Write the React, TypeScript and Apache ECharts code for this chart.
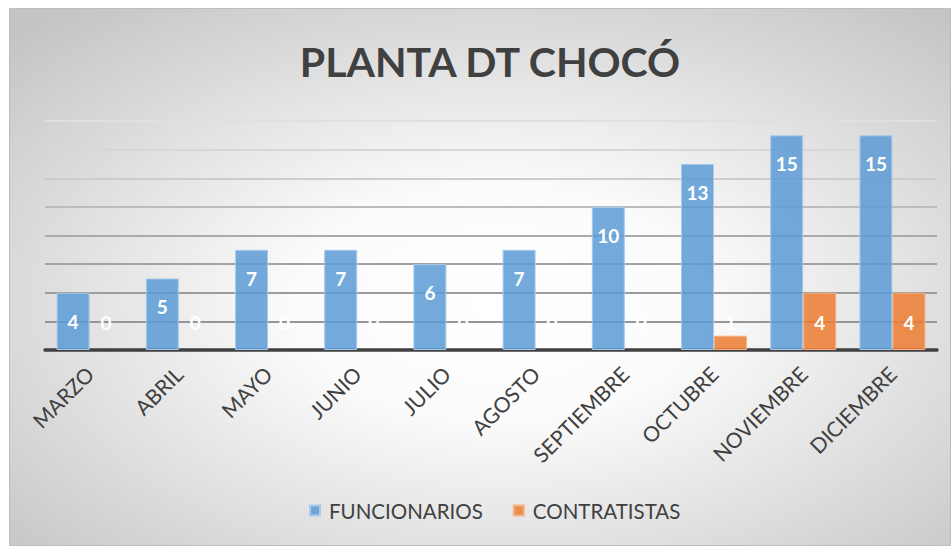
import React, { useEffect, useRef } from "react";
import * as echarts from "echarts";

const titleText = "PLANTA DT CHOCÓ";
const months = ["MARZO", "ABRIL", "MAYO", "JUNIO", "JULIO", "AGOSTO", "SEPTIEMBRE", "OCTUBRE", "NOVIEMBRE", "DICIEMBRE"];
const funcionarios = [4, 5, 7, 7, 6, 7, 10, 13, 15, 15];
const contratistas = [0, 0, 0, 0, 0, 0, 0, 1, 4, 4];
const seriesNames = ["FUNCIONARIOS", "CONTRATISTAS"];

const W = 942;
const H = 538;
const FONT = "Lato, 'Open Sans', sans-serif";

export default function App() {
  const ref = useRef<HTMLDivElement>(null);
  useEffect(() => {
    if (!ref.current) return;
    const chart = echarts.init(ref.current, null, { renderer: "svg" });
    chart.setOption({
      animation: false,
      graphic: [
        {
          type: "rect",
          z: -10,
          silent: true,
          shape: { x: 0.5, y: 0.5, width: W - 1, height: H - 1 },
          style: {
            fill: new echarts.graphic.RadialGradient(0.52, 0.55, 0.72, [
              { offset: 0, color: "#ffffff" },
              { offset: 0.3, color: "#fbfbfb" },
              { offset: 1, color: "#c4c4c4" },
            ]),
            stroke: "#bdbdbd",
            lineWidth: 1,
          },
        },
        {
          type: "text",
          x: 481,
          y: 53,
          style: {
            text: titleText,
            fill: "#404040",
            font: `bold 41px ${FONT}`,
            align: "center",
            verticalAlign: "middle",
          },
        },
      ],
      grid: { left: 36, right: 14, top: 113, bottom: 196 },
      legend: {
        left: 295,
        top: 487,
        icon: "rect",
        itemWidth: 10,
        itemHeight: 10,
        itemGap: 30,
        textStyle: { color: "#404040", fontSize: 20.5, fontFamily: FONT, padding: [0, 0, 0, 4] },
        data: seriesNames,
      },
      xAxis: {
        type: "category",
        data: months,
        axisLine: { lineStyle: { color: "#404040", width: 3.5 } },
        axisTick: { show: false },
        axisLabel: { rotate: 45, color: "#404040", fontSize: 21, fontFamily: FONT, margin: 20, interval: 0 },
      },
      yAxis: {
        type: "value",
        min: 0,
        max: 16,
        interval: 2,
        axisLabel: { show: false },
        axisLine: { show: false },
        axisTick: { show: false },
        splitLine: {
          lineStyle: {
            width: 2,
            color: ["#969696", "#969696", "#9c9c9c", "#a3a3a3", "#aaaaaa", "#bcbcbc", "#cccccc", "#d7d7d7", "#e0e0e0"],
          },
        },
      },
      series: [
        {
          name: seriesNames[0],
          type: "bar",
          data: funcionarios,
          barWidth: 33,
          barGap: "0%",
          itemStyle: { color: "rgba(91,155,213,0.85)", borderColor: "#a9cbeb", borderWidth: 1 },
          label: {
            show: true,
            position: "insideTop",
            distance: 19,
            color: "#ffffff",
            fontSize: 19,
            fontWeight: "bold",
            fontFamily: FONT,
          },
        },
        {
          name: seriesNames[1],
          type: "bar",
          data: contratistas.map((v) => (v === 0 ? { value: v, itemStyle: { borderWidth: 0 } } : v)),
          barWidth: 33,
          itemStyle: { color: "rgba(237,125,49,0.85)", borderColor: "#f4b183", borderWidth: 1 },
          label: {
            show: true,
            position: "insideBottom",
            distance: 18,
            color: "#ffffff",
            fontSize: 19,
            fontWeight: "bold",
            fontFamily: FONT,
          },
        },
      ],
    });
    return () => chart.dispose();
  }, []);
  return <div ref={ref} style={{ position: "absolute", left: 9, top: 8, width: W, height: H }} />;
}
